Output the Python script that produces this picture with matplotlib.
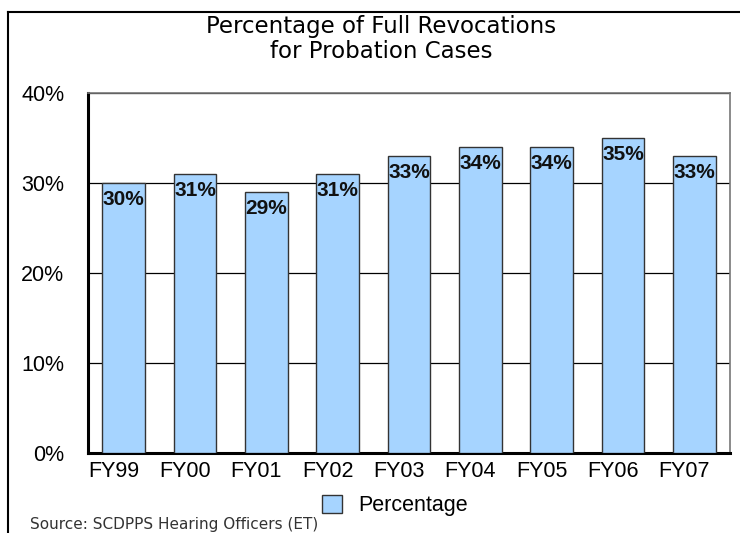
import matplotlib.pyplot as plt
import matplotlib.transforms as mtransforms
from matplotlib.patches import Rectangle
from matplotlib.lines import Line2D

plt.rcParams['font.family'] = ['Liberation Sans', 'DejaVu Sans']

# Datos
years = ['FY99', 'FY00', 'FY01', 'FY02', 'FY03', 'FY04', 'FY05', 'FY06', 'FY07']
pct = [30, 31, 29, 31, 33, 34, 34, 35, 33]

fig = plt.figure(figsize=(7.4, 5.33), dpi=100)
ax = fig.add_axes([88 / 740, 1 - 453 / 533, 642 / 740, 360 / 533])

bar_color = '#A6D4FF'
x = range(len(years))
ax.bar(x, pct, width=0.6, color=bar_color, edgecolor='#333333', linewidth=1.0, zorder=3)

for i, v in enumerate(pct):
    ax.text(i, v - 0.8, f'{v}%', ha='center', va='top', fontsize=15,
            fontweight='bold', color='#111111', zorder=4)

ax.set_xlim(-0.5, len(years) - 0.5)
ax.set_ylim(0, 40)
ax.set_yticks([0, 10, 20, 30, 40])
ax.set_yticklabels(['0%', '10%', '20%', '30%', '40%'])
ax.set_xticks(list(x))
ax.set_xticklabels(years)
ax.tick_params(axis='both', length=0, labelsize=15.5)
ax.tick_params(axis='y', pad=17)
ax.tick_params(axis='x', pad=6)
ax.yaxis.grid(True, color='black', linewidth=0.9, zorder=0)
ax.set_axisbelow(True)

# las etiquetas del eje x van un poco a la izquierda
shift = mtransforms.ScaledTranslation(-10 / 100, 0, fig.dpi_scale_trans)
for lbl in ax.get_xticklabels():
    lbl.set_transform(lbl.get_transform() + shift)

ax.spines['left'].set_linewidth(2.2)
ax.spines['bottom'].set_linewidth(2.2)
ax.spines['top'].set_color('#777777')
ax.spines['right'].set_color('#777777')
ax.spines['top'].set_linewidth(1.2)
ax.spines['right'].set_linewidth(1.2)

# Titulo
fig.text(381 / 740, 1 - 27 / 533, 'Percentage of Full Revocations', ha='center', va='center',
         fontsize=16.5, family='DejaVu Sans')
fig.text(381 / 740, 1 - 52 / 533, 'for Probation Cases', ha='center', va='center',
         fontsize=16.5, family='DejaVu Sans')

# Leyenda
fig.patches.append(Rectangle((322 / 740, 1 - 513 / 533), 20 / 740, 18 / 533,
                             transform=fig.transFigure, facecolor=bar_color,
                             edgecolor='#333333', linewidth=1.0))
fig.text(358 / 740, 1 - 505 / 533, 'Percentage', ha='left', va='center', fontsize=15.5)

# Fuente
fig.text(30 / 740, 1 - 524 / 533, 'Source: SCDPPS Hearing Officers (ET)', ha='left',
         va='center', fontsize=11, color='#333333', family='DejaVu Sans')

# Borde del marco
fig.lines.append(Line2D([8 / 740, 8 / 740], [0, 1 - 12 / 533], transform=fig.transFigure,
                        color='black', linewidth=1.5))
fig.lines.append(Line2D([8 / 740, 1], [1 - 12 / 533, 1 - 12 / 533], transform=fig.transFigure,
                        color='black', linewidth=1.5))

fig.savefig('out.png', dpi=100)
